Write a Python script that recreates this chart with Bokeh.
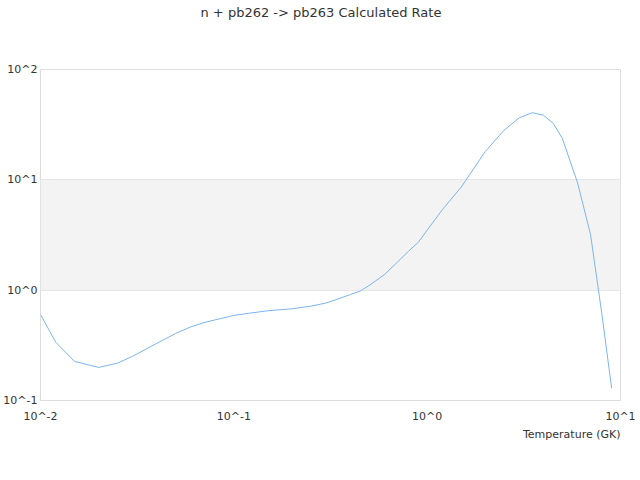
from bokeh.plotting import figure
from bokeh.models import (FixedTicker, CustomJSTickFormatter, BoxAnnotation, Range1d, Title)
from bokeh.embed import file_html
from bokeh.resources import INLINE

title_text = "n + pb262 -> pb263 Calculated Rate"
x_label = "Temperature (GK)"

temps = [0.01, 0.012, 0.015, 0.02, 0.025, 0.03, 0.04, 0.05, 0.06, 0.07, 0.08, 0.09,
         0.1, 0.12, 0.15, 0.2, 0.25, 0.3, 0.35, 0.4, 0.45, 0.5, 0.6, 0.7, 0.8, 0.9,
         1.0, 1.2, 1.5, 2.0, 2.5, 3.0, 3.5, 4.0, 4.5, 5.0, 6.0, 7.0, 8.0, 9.0]
rates = [0.602, 0.337, 0.226, 0.1995, 0.218, 0.252, 0.330, 0.405, 0.465, 0.508, 0.538, 0.565,
         0.590, 0.618, 0.651, 0.678, 0.716, 0.765, 0.838, 0.912, 0.98, 1.10, 1.38, 1.79, 2.25, 2.72,
         3.50, 5.38, 8.6, 18.1, 28.2, 36.6, 40.6, 38.5, 32.3, 23.8, 9.38, 3.19, 0.618, 0.129]

x_ticks = [0.01, 0.1, 1, 10]
y_ticks = [0.1, 1, 10, 100]

FONT = "DejaVu Sans"
TXT = "#333333"

p = figure(width=636, height=472, x_axis_type="log", y_axis_type="log",
           x_range=Range1d(0.01, 10), y_range=Range1d(0.1, 100),
           output_backend="svg", toolbar_location=None,
           min_border_left=40, min_border_right=16, min_border_top=69, min_border_bottom=72)

p.background_fill_color = "white"
p.border_fill_color = "white"
p.outline_line_color = "#dddddd"

p.title.text = title_text
p.title.align = "left"
p.title.offset = 160
p.title.vertical_align = "top"
p.title.standoff = 0
p.title.text_font = FONT
p.title.text_font_size = "13px"
p.title.text_font_style = "normal"
p.title.text_color = TXT

# spacer between title and frame
p.add_layout(Title(text=" ", standoff=31, text_font=FONT, text_font_size="13px",
                   text_color="white"), "above")

# band between 10^0 and 10^1
p.add_layout(BoxAnnotation(bottom=1, top=10, fill_color="#f3f3f3", fill_alpha=1.0,
                           line_color=None, level="image"))

p.xgrid.visible = False
p.ygrid.grid_line_color = "#e6e6e6"
p.ygrid.minor_grid_line_color = None

fmt = "return '10^' + Math.round(Math.log10(tick));"

ya = p.yaxis[0]
ya.ticker = FixedTicker(ticks=y_ticks)
ya.formatter = CustomJSTickFormatter(code=fmt)
ya.axis_line_color = None
ya.major_tick_line_color = None
ya.minor_tick_line_color = None
ya.major_tick_out = 0
ya.major_tick_in = 0
ya.major_label_standoff = 3
ya.major_label_text_font = FONT
ya.major_label_text_font_size = "11px"
ya.major_label_text_color = TXT

xa = p.xaxis[0]
xa.ticker = FixedTicker(ticks=x_ticks)
xa.formatter = CustomJSTickFormatter(code=fmt)
xa.axis_line_color = None
xa.major_tick_line_color = None
xa.minor_tick_line_color = None
xa.major_tick_out = 0
xa.major_tick_in = 0
xa.major_label_standoff = 9
xa.major_label_text_font = FONT
xa.major_label_text_font_size = "11px"
xa.major_label_text_color = TXT

p.add_layout(Title(text=x_label, align="right", standoff=0, text_font=FONT,
                   text_font_size="11px", text_font_style="normal", text_color=TXT), "below")

p.line(temps, rates, line_color="#7cb5ec", line_width=1)

open("out.html", "w").write(file_html(p, INLINE))
